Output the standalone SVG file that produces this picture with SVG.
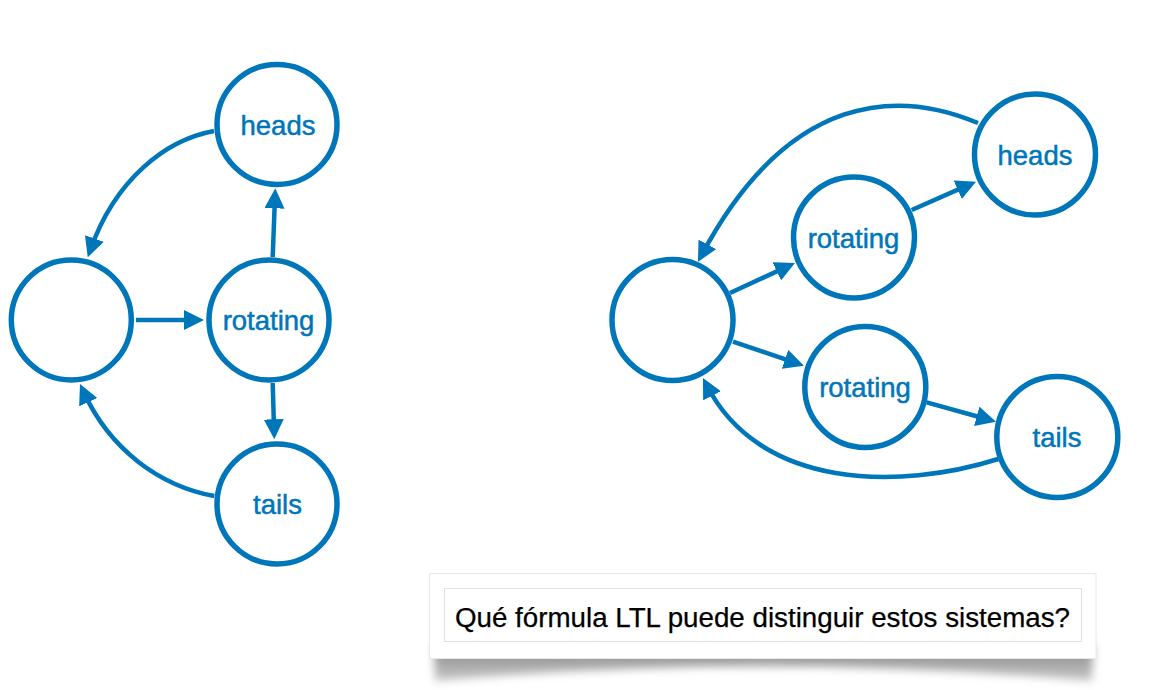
<svg xmlns="http://www.w3.org/2000/svg" width="1155" height="690" viewBox="0 0 1155 690">
<style>
.node{fill:#fff;stroke:#0076BA;stroke-width:5.5}
.lbl{font-family:"Liberation Sans",Arial,sans-serif;font-size:27.5px;fill:#0076BA;stroke:#0076BA;stroke-width:0.5;text-anchor:middle}
.edge{fill:none;stroke:#0076BA;stroke-width:4.5;marker-end:url(#ah)}
.q{font-family:"Liberation Sans",Arial,sans-serif;font-size:27px;fill:#000;stroke:#000;stroke-width:0.25}
</style>
<defs>
<marker id="ah" markerUnits="userSpaceOnUse" markerWidth="20" markerHeight="20" refX="12" refY="10" orient="auto" viewBox="0 0 20 20">
<path d="M0,0 L20,10 L0,20 z" fill="#0076BA"/>
</marker>
<filter id="blur" x="-10%" y="-50%" width="120%" height="200%">
<feGaussianBlur stdDeviation="4"/>
</filter>
<linearGradient id="sh" x1="0" y1="0" x2="0" y2="1">
<stop offset="0" stop-color="#666"/>
<stop offset="1" stop-color="#bbb"/>
</linearGradient>
</defs>
<rect width="1155" height="690" fill="#fff"/>

<g id="connectors">
<path class="edge" d="M214,131 C165,140 115,180 90.4,249.8"/>
<path class="edge" d="M136,320 L196,320"/>
<path class="edge" d="M272.7,257 L275,196.3"/>
<path class="edge" d="M272.7,383 L274.1,431.3"/>
<path class="edge" d="M214.3,496 C160,486 110,450 83.3,391.3"/>
<path class="edge" d="M730,293 L787.7,266.4"/>
<path class="edge" d="M911.7,210 L968.7,184.9"/>
<path class="edge" d="M733,341.7 L796.4,363.1"/>
<path class="edge" d="M926.7,402.3 L988.3,419.5"/>
<path class="edge" d="M978,123 C900,90 790,90 701.7,254.9"/>
<path class="edge" d="M998.3,459 C900,490 760,490 706.6,385.1"/>
</g>

<g id="left-start"><circle class="node" cx="71.3" cy="320" r="60"/></g>
<g id="left-rotating"><circle class="node" cx="269" cy="320" r="60"/><text class="lbl" x="268.5" y="330">rotating</text></g>
<g id="left-heads"><circle class="node" cx="277" cy="124.5" r="60"/><text class="lbl" x="278" y="134.5">heads</text></g>
<g id="left-tails"><circle class="node" cx="277" cy="504" r="60"/><text class="lbl" x="277.5" y="514">tails</text></g>

<g id="right-start"><circle class="node" cx="672.5" cy="320" r="60.5"/></g>
<g id="right-rotating-top"><circle class="node" cx="854" cy="237.5" r="60.5"/><text class="lbl" x="853.5" y="247.5">rotating</text></g>
<g id="right-heads"><circle class="node" cx="1035" cy="154.5" r="60.5"/><text class="lbl" x="1035" y="164.5">heads</text></g>
<g id="right-rotating-bottom"><circle class="node" cx="865.3" cy="387" r="60.5"/><text class="lbl" x="865" y="397">rotating</text></g>
<g id="right-tails"><circle class="node" cx="1057.3" cy="437" r="60.5"/><text class="lbl" x="1057" y="447">tails</text></g>

<g id="question">
<path d="M434,645 L435,681 Q763,652 1092,681 L1093,645 Z" fill="url(#sh)" opacity="0.8" filter="url(#blur)"/>
<rect x="429.5" y="573.5" width="666.5" height="85" fill="#fff" stroke="#e8e8e8" stroke-width="1"/>
<rect x="444.5" y="588.5" width="637" height="53" fill="#fff" stroke="#e0e0e0" stroke-width="1"/>
<text class="q" x="455" y="627" textLength="615" lengthAdjust="spacingAndGlyphs">Qué fórmula LTL puede distinguir estos sistemas?</text>
</g>
</svg>
